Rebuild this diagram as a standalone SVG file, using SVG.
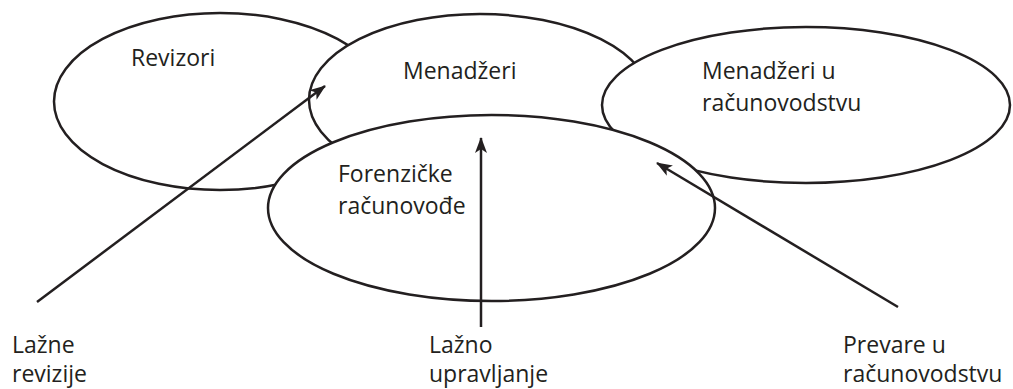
<svg xmlns="http://www.w3.org/2000/svg" width="1013" height="389" viewBox="0 0 1013 389">
<style>
.e{fill:#fff;stroke:#231f20;stroke-width:2.5}
.t{font-family:"Open Sans","Liberation Sans",sans-serif;font-size:23px;fill:#231f20}
.c{stroke:#231f20;stroke-width:2.5;fill:none;marker-end:url(#ah)}
</style>
<defs>
<marker id="ah" markerWidth="16" markerHeight="12" refX="15" refY="6" orient="auto" markerUnits="userSpaceOnUse">
<path d="M0,0 L16,6 L0,12 L4,6 Z" fill="#231f20"/>
</marker>
</defs>
<g id="revizori"><ellipse class="e" cx="220" cy="101.5" rx="166" ry="88.5"/><text class="t" x="131" y="66">Revizori</text></g>
<g id="menadzeri"><ellipse class="e" cx="480" cy="100" rx="171" ry="86"/><text class="t" x="403" y="79">Menadžeri</text></g>
<g id="menadzeri-racunovodstvo"><ellipse class="e" cx="806" cy="105" rx="204" ry="78"/><text class="t" x="702" y="79">Menadžeri u</text><text class="t" x="702" y="111">računovodstvu</text></g>
<g id="forenzicke"><ellipse class="e" cx="491.5" cy="208" rx="223.5" ry="93"/><text class="t" x="338" y="182">Forenzičke</text><text class="t" x="338" y="214">računovođe</text></g>
<g id="connectors">
<line class="c" x1="37" y1="302" x2="325" y2="86"/>
<line class="c" x1="481" y1="327" x2="481" y2="138"/>
<line class="c" x1="898" y1="307" x2="657" y2="163"/>
</g>
<g id="label-lazne-revizije"><text class="t" x="12" y="353">Lažne</text><text class="t" x="12" y="382">revizije</text></g>
<g id="label-lazno-upravljanje"><text class="t" x="429" y="353">Lažno</text><text class="t" x="429" y="382">upravljanje</text></g>
<g id="label-prevare"><text class="t" x="843" y="353">Prevare u</text><text class="t" x="843" y="382">računovodstvu</text></g>
</svg>
